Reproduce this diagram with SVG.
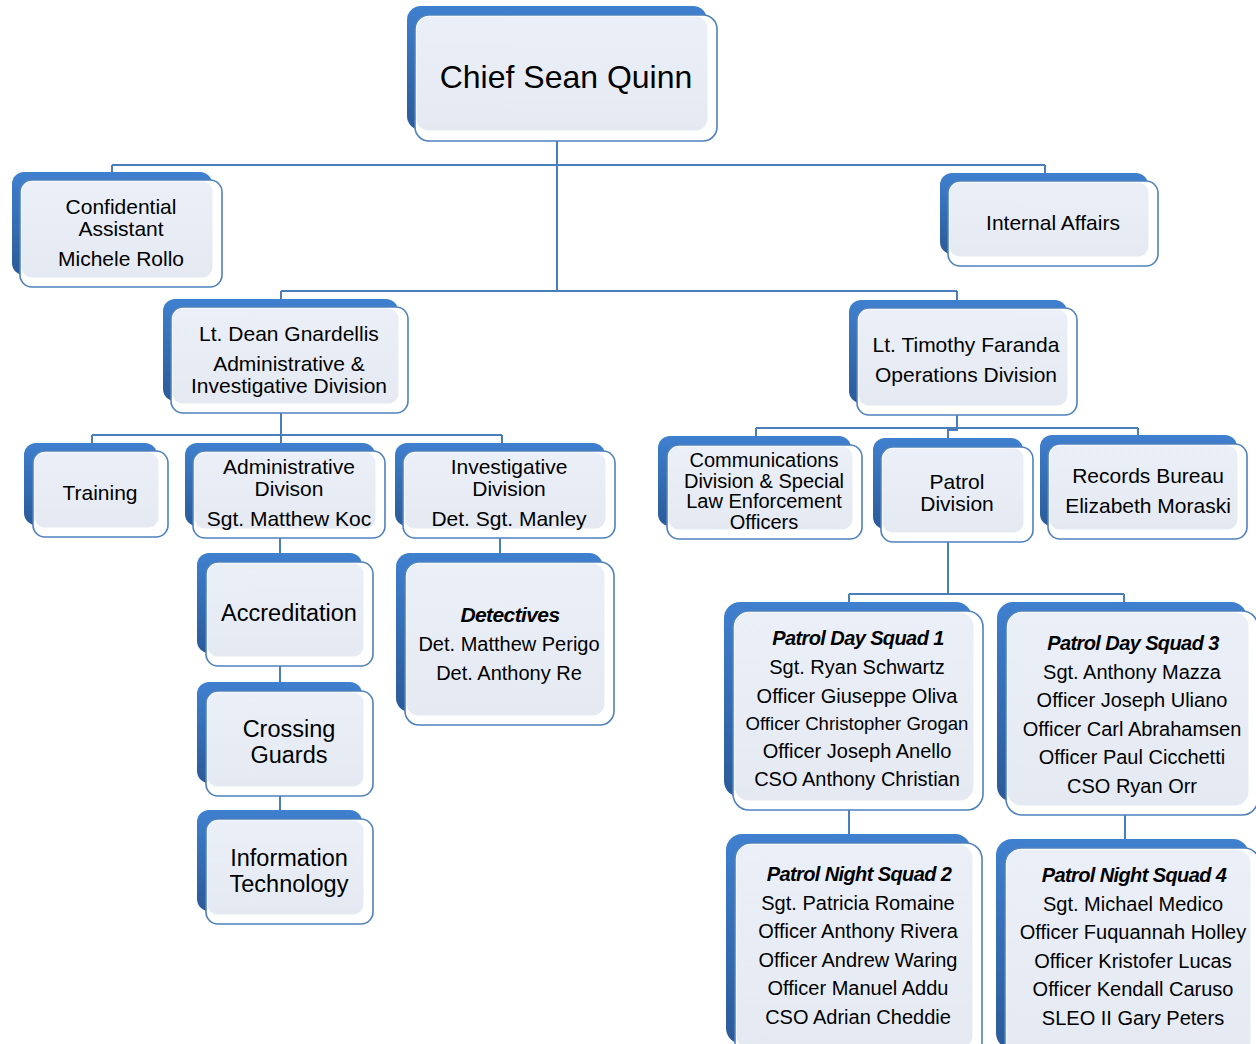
<svg xmlns="http://www.w3.org/2000/svg" width="1256" height="1044" viewBox="0 0 1256 1044">
<defs>
<linearGradient id="gBack" x1="0" y1="0" x2="0" y2="1">
<stop offset="0" stop-color="#3f80cf"/>
<stop offset="1" stop-color="#2b5a98"/>
</linearGradient>
<linearGradient id="gIn" x1="0" y1="0" x2="0" y2="1">
<stop offset="0" stop-color="#ebf0f8"/>
<stop offset="1" stop-color="#e5eaf2"/>
</linearGradient>
<style>
.back{fill:url(#gBack)}
.front{fill:#ffffff;stroke:#4f81bd;stroke-width:1.6}
.inner{fill:url(#gIn)}
.t{font-family:"Liberation Sans",Arial,sans-serif;fill:#000;text-anchor:middle}
.s20{font-size:20px}
.s21{font-size:21px}
.s24{font-size:23.5px}
.bi{font-weight:bold;font-style:italic;letter-spacing:-0.6px}
.c{fill:none;stroke:#4a7ebb;stroke-width:2}
</style>
</defs>
<rect width="1256" height="1044" fill="#ffffff"/>

<g id="connectors">
<path class="c" d="M557 141V291M112 165H1045M112 165V180M1045 165V181M281 291H957M281 291V307M957 291V308"/>
<path class="c" d="M281 413V435M92 435H502M92 435V451M281 435V451M502 435V451"/>
<path class="c" d="M280 538V562M280 666V691M280 796V819M500 538V562"/>
<path class="c" d="M957 415V430H948M756 428H1138M756 428V445M948 428V447M1138 428V444"/>
<path class="c" d="M948 542V594M849 594H1124M849 594V611M1124 594V611M849 810V843M1125 815V848"/>
</g>

<g id="chief">
<rect class="back" x="407" y="6" width="300" height="124" rx="14"/>
<rect class="front" x="415" y="15" width="302" height="126" rx="14"/>
<rect class="inner" x="416.5" y="16.5" width="291" height="114" rx="12"/>
<text class="t" x="566" y="88" font-size="32">Chief Sean Quinn</text>
</g>

<g id="confidential">
<rect class="back" x="12" y="172" width="200" height="103" rx="12"/>
<rect class="front" x="20" y="180" width="202" height="107" rx="12"/>
<rect class="inner" x="21.5" y="181.5" width="191" height="96" rx="10"/>
<text class="t s21" x="121" y="214">Confidential</text>
<text class="t s21" x="121" y="236">Assistant</text>
<text class="t s21" x="121" y="266">Michele Rollo</text>
</g>

<g id="internal-affairs">
<rect class="back" x="940" y="173" width="208" height="81" rx="12"/>
<rect class="front" x="948" y="181" width="210" height="85" rx="12"/>
<rect class="inner" x="949.5" y="182.5" width="199" height="74" rx="10"/>
<text class="t s21" x="1053" y="230">Internal Affairs</text>
</g>

<g id="lt-dean">
<rect class="back" x="163" y="299" width="235" height="102" rx="12"/>
<rect class="front" x="171" y="307" width="237" height="106" rx="12"/>
<rect class="inner" x="172.5" y="308.5" width="226" height="95" rx="10"/>
<text class="t s21" x="289" y="341">Lt. Dean Gnardellis</text>
<text class="t s21" x="289" y="371">Administrative &amp;</text>
<text class="t s21" x="289" y="393">Investigative Division</text>
</g>

<g id="lt-timothy">
<rect class="back" x="849" y="300" width="218" height="103" rx="12"/>
<rect class="front" x="857" y="308" width="220" height="107" rx="12"/>
<rect class="inner" x="858.5" y="309.5" width="209" height="96" rx="10"/>
<text class="t s21" x="966" y="352">Lt. Timothy Faranda</text>
<text class="t s21" x="966" y="382">Operations Division</text>
</g>

<g id="training">
<rect class="back" x="24" y="443" width="133" height="82" rx="12"/>
<rect class="front" x="33" y="451" width="135" height="86" rx="12"/>
<rect class="inner" x="34.5" y="452.5" width="124" height="75" rx="10"/>
<text class="t s21" x="100" y="500">Training</text>
</g>

<g id="administrative">
<rect class="back" x="185" y="443" width="190" height="83" rx="12"/>
<rect class="front" x="193" y="451" width="192" height="87" rx="12"/>
<rect class="inner" x="194.5" y="452.5" width="181" height="76" rx="10"/>
<text class="t s21" x="289" y="474">Administrative</text>
<text class="t s21" x="289" y="496">Divison</text>
<text class="t s21" x="289" y="526">Sgt. Matthew Koc</text>
</g>

<g id="investigative">
<rect class="back" x="395" y="443" width="210" height="83" rx="12"/>
<rect class="front" x="403" y="451" width="212" height="87" rx="12"/>
<rect class="inner" x="404.5" y="452.5" width="201" height="76" rx="10"/>
<text class="t s21" x="509" y="474">Investigative</text>
<text class="t s21" x="509" y="496">Division</text>
<text class="t s21" x="509" y="526">Det. Sgt. Manley</text>
</g>

<g id="accreditation">
<rect class="back" x="197" y="553" width="165" height="100" rx="12"/>
<rect class="front" x="206" y="562" width="167" height="104" rx="12"/>
<rect class="inner" x="207.5" y="563.5" width="156" height="93" rx="10"/>
<text class="t s24" x="289" y="621">Accreditation</text>
</g>

<g id="crossing-guards">
<rect class="back" x="197" y="682" width="165" height="101" rx="12"/>
<rect class="front" x="206" y="691" width="167" height="105" rx="12"/>
<rect class="inner" x="207.5" y="692.5" width="156" height="94" rx="10"/>
<text class="t s24" x="289" y="737">Crossing</text>
<text class="t s24" x="289" y="763">Guards</text>
</g>

<g id="information-technology">
<rect class="back" x="197" y="810" width="165" height="101" rx="12"/>
<rect class="front" x="206" y="819" width="167" height="105" rx="12"/>
<rect class="inner" x="207.5" y="820.5" width="156" height="94" rx="10"/>
<text class="t s24" x="289" y="866">Information</text>
<text class="t s24" x="289" y="892">Technology</text>
</g>

<g id="detectives">
<rect class="back" x="396" y="553" width="207" height="159" rx="14"/>
<rect class="front" x="405" y="562" width="209" height="163" rx="14"/>
<rect class="inner" x="406.5" y="563.5" width="198" height="152" rx="12"/>
<text class="t s21 bi" x="510" y="622">Detectives</text>
<text class="t s20" x="509" y="651">Det. Matthew Perigo</text>
<text class="t s20" x="509" y="680">Det. Anthony Re</text>
</g>

<g id="communications">
<rect class="back" x="658" y="436" width="193" height="90" rx="12"/>
<rect class="front" x="667" y="445" width="195" height="94" rx="12"/>
<rect class="inner" x="668.5" y="446.5" width="184" height="83" rx="10"/>
<text class="t s20" x="764" y="467">Communications</text>
<text class="t s20" x="764" y="488">Division &amp; Special</text>
<text class="t s20" x="764" y="508">Law Enforcement</text>
<text class="t s20" x="764" y="529">Officers</text>
</g>

<g id="patrol-division">
<rect class="back" x="873" y="438" width="150" height="91" rx="12"/>
<rect class="front" x="881" y="447" width="152" height="95" rx="12"/>
<rect class="inner" x="882.5" y="448.5" width="141" height="84" rx="10"/>
<text class="t s21" x="957" y="489">Patrol</text>
<text class="t s21" x="957" y="511">Division</text>
</g>

<g id="records-bureau">
<rect class="back" x="1040" y="435" width="197" height="91" rx="12"/>
<rect class="front" x="1048" y="444" width="199" height="95" rx="12"/>
<rect class="inner" x="1049.5" y="445.5" width="188" height="84" rx="10"/>
<text class="t s21" x="1148" y="483">Records Bureau</text>
<text class="t s21" x="1148" y="513">Elizabeth Moraski</text>
</g>

<g id="squad-1">
<rect class="back" x="724" y="602" width="248" height="195" rx="16"/>
<rect class="front" x="733" y="611" width="250" height="199" rx="16"/>
<rect class="inner" x="734.5" y="612.5" width="239" height="188" rx="14"/>
<text class="t s20 bi" x="858" y="645">Patrol Day Squad 1</text>
<text class="t s20" x="857" y="674">Sgt. Ryan Schwartz</text>
<text class="t s20" x="857" y="703">Officer Giuseppe Oliva</text>
<text class="t" x="857" y="730" font-size="18.6">Officer Christopher Grogan</text>
<text class="t s20" x="857" y="758">Officer Joseph Anello</text>
<text class="t s20" x="857" y="786">CSO Anthony Christian</text>
</g>

<g id="squad-3">
<rect class="back" x="997" y="602" width="250" height="200" rx="16"/>
<rect class="front" x="1006" y="611" width="252" height="204" rx="16"/>
<rect class="inner" x="1007.5" y="612.5" width="241" height="193" rx="14"/>
<text class="t s20 bi" x="1133" y="650">Patrol Day Squad 3</text>
<text class="t s20" x="1132" y="679">Sgt. Anthony Mazza</text>
<text class="t s20" x="1132" y="707">Officer Joseph Uliano</text>
<text class="t s20" x="1132" y="736">Officer Carl Abrahamsen</text>
<text class="t s20" x="1132" y="764">Officer Paul Cicchetti</text>
<text class="t s20" x="1132" y="793">CSO Ryan Orr</text>
</g>

<g id="squad-2">
<rect class="back" x="726" y="834" width="245" height="210" rx="16"/>
<rect class="front" x="735" y="843" width="247" height="215" rx="16"/>
<rect class="inner" x="736.5" y="844.5" width="236" height="205" rx="14"/>
<text class="t s20 bi" x="859" y="881">Patrol Night Squad 2</text>
<text class="t s20" x="858" y="910">Sgt. Patricia Romaine</text>
<text class="t s20" x="858" y="938">Officer Anthony Rivera</text>
<text class="t s20" x="858" y="967">Officer Andrew Waring</text>
<text class="t s20" x="858" y="995">Officer Manuel Addu</text>
<text class="t s20" x="858" y="1024">CSO Adrian Cheddie</text>
</g>

<g id="squad-4">
<rect class="back" x="996" y="839" width="253" height="210" rx="16"/>
<rect class="front" x="1005" y="848" width="255" height="215" rx="16"/>
<rect class="inner" x="1006.5" y="849.5" width="244" height="205" rx="14"/>
<text class="t s20 bi" x="1134" y="882">Patrol Night Squad 4</text>
<text class="t s20" x="1133" y="911">Sgt. Michael Medico</text>
<text class="t s20" x="1133" y="939">Officer Fuquannah Holley</text>
<text class="t s20" x="1133" y="968">Officer Kristofer Lucas</text>
<text class="t s20" x="1133" y="996">Officer Kendall Caruso</text>
<text class="t s20" x="1133" y="1025">SLEO II Gary Peters</text>
</g>
</svg>
